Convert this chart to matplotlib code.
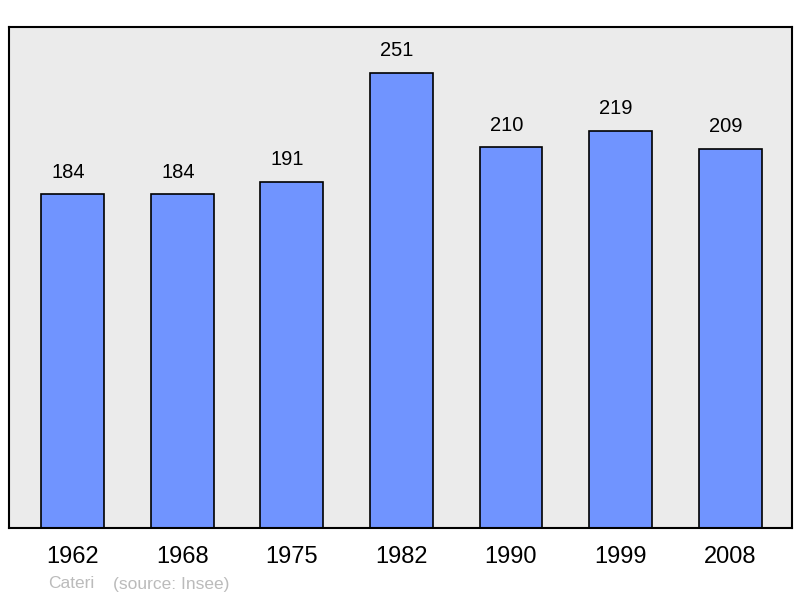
import numpy as np
import matplotlib
matplotlib.use("Agg")
import matplotlib.pyplot as plt

plt.rcParams['font.family'] = ['Liberation Sans', 'DejaVu Sans']

# population per census year
years = ["1962", "1968", "1975", "1982", "1990", "1999", "2008"]
population = [184, 184, 191, 251, 210, 219, 209]

fig = plt.figure(figsize=(8, 5.98), dpi=100)
ax = fig.add_axes([9 / 800, 70 / 598, 783 / 800, 501 / 598])
ax.set_facecolor('#ebebeb')

x = np.arange(len(years))
ax.bar(x, population, width=0.575, color='#7094ff', edgecolor='black', linewidth=1.2, zorder=2)

for xi, v in zip(x, population):
    ax.text(xi - 0.04, v + 7, str(v), ha='center', va='bottom', fontsize=14.5)

ax.set_xlim(-0.584, 6.566)
ax.set_ylim(0, 276.3)
ax.set_yticks([])
ax.set_xticks(x)
ax.set_xticklabels(years, fontsize=17)
ax.tick_params(axis='x', length=0, pad=13)
for s in ax.spines.values():
    s.set_linewidth(1.5)

fig.text(48 / 800, 1 - 584 / 598, "Cateri", color='#bbbbbb', fontsize=12.5, va='center')
fig.text(113 / 800, 1 - 584 / 598, "(source: Insee)", color='#bbbbbb', fontsize=12.5, va='center')

fig.savefig("out.png", dpi=100)
